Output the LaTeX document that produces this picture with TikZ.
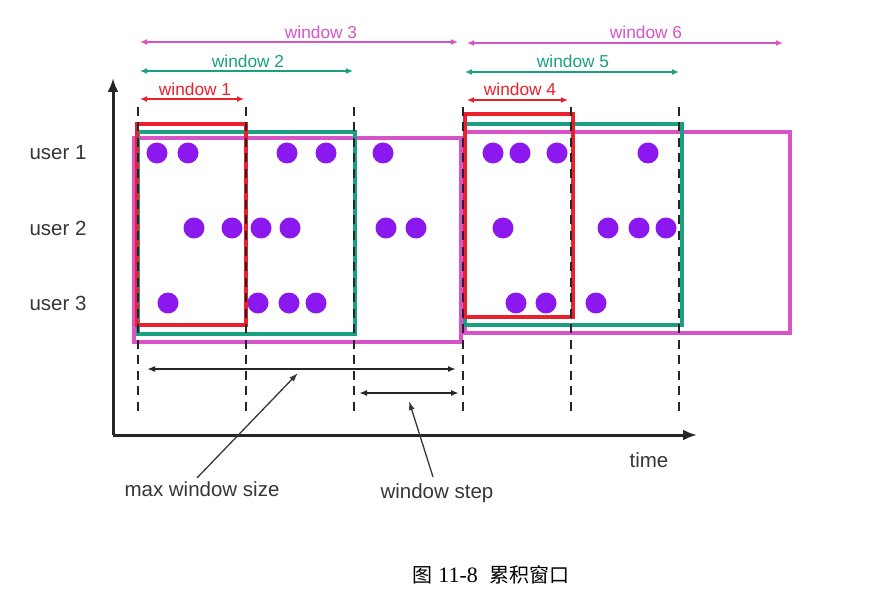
\documentclass[tikz,border=0pt]{standalone}
\usepackage{fontspec}
\setmainfont{Liberation Sans}
\newfontfamily\cjk{Noto Sans CJK SC}
\newfontfamily\capserif{Liberation Serif}
\usepackage{tikz}
\usetikzlibrary{arrows.meta}
\usetikzlibrary{calc}
\definecolor{WinRed}{RGB}{234,32,45}
\definecolor{WinGreen}{RGB}{26,160,128}
\definecolor{WinPink}{RGB}{214,84,200}
\definecolor{DotPurple}{RGB}{140,24,240}
\definecolor{TextGray}{RGB}{55,55,55}
\tikzstyle{winarrow} = [line width=2pt, {Latex[length=7pt,width=6pt]}-{Latex[length=7pt,width=6pt]}]
\tikzstyle{measure} = [line width=2.2pt, black!85, {Latex[length=8pt,width=6pt]}-{Latex[length=8pt,width=6pt]}]
\tikzstyle{winbox} = [line width=3.6pt]
\tikzstyle{slot} = [black!85, line width=2.2pt, dash pattern=on 9pt off 6.5pt]
\tikzstyle{pointer} = [line width=1.3pt, TextGray, -{Latex[length=9pt,width=6pt]}]
\tikzstyle{axis} = [line width=3pt, black!85, -{Latex[length=14pt,width=11pt]}]
\tikzstyle{usertext} = [TextGray, font=\fontsize{20.5}{24}\selectfont]
\tikzstyle{wintext} = [font=\fontsize{17.3}{20}\selectfont]

\begin{document}
\begin{tikzpicture}[x=1pt, y=-1pt]
\useasboundingbox (0,0) rectangle (895,599);
\fill[white] (0,0) rectangle (895,599);

\coordinate (origin) at (113,435);
\draw[axis] (origin) -- (113,78);
\draw[axis] (origin) -- (697,435);

\foreach \x in {157,188,287,326,383,493,520,557,648}
    \fill[DotPurple] (\x,153) circle (10.5pt);
\foreach \x in {194,232,261,290,386,416,503,608,639,666}
    \fill[DotPurple] (\x,228) circle (10.5pt);
\foreach \x in {168,258,289,316,516,546,596}
    \fill[DotPurple] (\x,303) circle (10.5pt);

\foreach \c/\l/\t/\r/\b in {WinPink/134/138/461/342, WinPink/465/132/790/333,
                             WinGreen/138/132/355/334, WinGreen/465/124/682/325,
                             WinRed/137/124/246/325, WinRed/465/114/573/317} {
    \draw[winbox, \c] (\l,\t) rectangle (\r,\b);
}

\foreach \x in {138,246,354,463,571,679}
    \draw[slot] (\x,107) -- (\x,415);

\foreach \n/\c/\a/\b/\y/\lx/\ly in {1/WinRed/140/244/99/195/89, 2/WinGreen/140/353/71/248/61,
                                    3/WinPink/140/458/42/321/32, 4/WinRed/467/568/100/520/89,
                                    5/WinGreen/465/679/72/573/61, 6/WinPink/467/783/43/646/32} {
    \draw[winarrow, \c] (\a,\y) -- (\b,\y);
    \node[wintext, text=\c] (win\n) at (\lx,\ly) {window \n};
}

\foreach \i/\y in {1/153, 2/228, 3/303}
    \node[usertext] (user\i) at (58,\y) {user \i};

\draw[measure] (147,369) -- (456,369);
\draw[measure] (359,393) -- (459,393);
\coordinate (maxpt) at (298,373);
\coordinate (steppt) at (409,401);

\node[usertext] (time) at (649,460) {time};
\node[usertext] (maxsize) at (202,489) {max window size};
\node[usertext] (wstep) at (437,493) {window step};
\draw[pointer] ($(maxsize.north)+(-5,0)$) -- (maxpt);
\draw[pointer] ($(wstep.north)+(-4,-3)$) -- (steppt);

\node[font=\fontsize{20}{24}\selectfont] (caption) at (491,575)
    {{\cjk 图}~{\capserif\fontsize{22}{24}\selectfont 11-8}~~{\cjk 累积窗口}};
\end{tikzpicture}
\end{document}
